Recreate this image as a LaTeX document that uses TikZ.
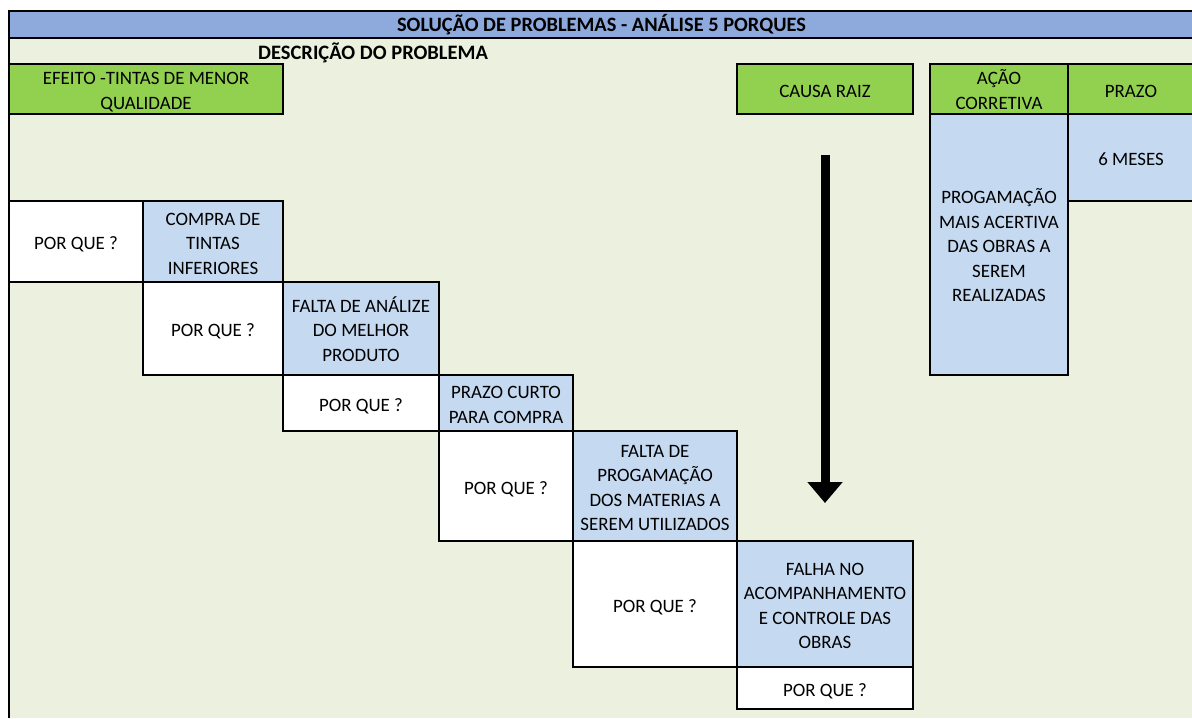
\documentclass[tikz,border=0pt]{standalone}
\usepackage{fontspec}
\setmainfont{Carlito}
\usetikzlibrary{arrows.meta}
\definecolor{bandblue}{HTML}{8EA9DB}
\definecolor{sheetbg}{HTML}{EBF1DE}
\definecolor{headgreen}{HTML}{92D050}
\definecolor{cellblue}{HTML}{C5D9F1}
% fixed first-line height and last-line depth so every cell text sits alike
\newcommand{\ts}{\rule{0pt}{20.7pt}}
\newcommand{\botstrut}{\rule[-4.5pt]{0pt}{4.5pt}}
\tikzset{
  cell/.style={draw=black, line width=1.1pt, inner sep=0pt, outer sep=0pt,
    anchor=north west, align=center,
    font=\fontsize{18.9}{24.5}\selectfont,
    execute at end node=\botstrut},
  greencell/.style={cell, fill=headgreen},
  bluecell/.style={cell, fill=cellblue},
  whycell/.style={cell, fill=white},
  cellsize/.style 2 args={minimum width=#1pt, minimum height=#2pt},
}
\begin{document}
\begin{tikzpicture}[x=1pt, y=-1pt]
  \useasboundingbox (0,0) rectangle (1192,718);
  \fill[white] (0,0) rectangle (1192,718);
  % sheet background and title band
  \fill[sheetbg] (9,11) rectangle (1192,718);
  \fill[bandblue] (9,11) rectangle (1196,38);
  \draw[line width=1.1pt] (1196,11) -- (9,11) -- (9,718);
  \draw[line width=1.1pt] (9,38) -- (1196,38);
  \node[font=\bfseries\fontsize{20.4}{24}\selectfont] (title) at (601.5,25)
    {SOLUÇÃO DE PROBLEMAS - ANÁLISE 5 PORQUES};
  \node[font=\bfseries\fontsize{20.5}{24}\selectfont, anchor=west, inner sep=0pt] (desc) at (258,53)
    {DESCRIÇÃO DO PROBLEMA};

  % header cells
  \node[greencell, cellsize={274}{50}] (efeito) at (9,64) {\ts EFEITO -TINTAS DE MENOR\\QUALIDADE};
  \node[greencell, cellsize={176}{50}] (causa) at (737,64) {\ts CAUSA RAIZ};
  \node[greencell, cellsize={138}{50}] (acao) at (930,64) {\ts AÇÃO\\CORRETIVA};
  \node[greencell, cellsize={126}{50}] (prazo) at (1068,64) {\ts PRAZO};
  \node[bluecell, cellsize={138}{261}] (acaotxt) at (930,114)
    {\ts PROGAMAÇÃO\\MAIS ACERTIVA\\DAS OBRAS A\\SEREM\\REALIZADAS};
  \node[bluecell, cellsize={126}{87}] (prazotxt) at (1068,114) {\ts 6 MESES};

  % the why-chain staircase
  \node[whycell, cellsize={134}{81}] (why1) at (9,201) {\ts POR QUE ?};
  \node[bluecell, cellsize={140}{81}] (ans1) at (143,201) {\ts COMPRA DE\\TINTAS\\INFERIORES};
  \node[whycell, cellsize={140}{93}] (why2) at (143,282) {\ts POR QUE ?};
  \node[bluecell, cellsize={156}{93}] (ans2) at (283,282) {\ts FALTA DE ANÁLIZE\\DO MELHOR\\PRODUTO};
  \node[whycell, cellsize={156}{56}] (why3) at (283,375) {\ts POR QUE ?};
  \node[bluecell, cellsize={134}{56}] (ans3) at (439,375) {\ts PRAZO CURTO\\PARA COMPRA};
  \node[whycell, cellsize={134}{110}] (why4) at (439,431) {\ts POR QUE ?};
  \node[bluecell, cellsize={164}{110}] (ans4) at (573,431)
    {\ts FALTA DE\\PROGAMAÇÃO\\DOS MATERIAS A\\SEREM UTILIZADOS};
  \node[whycell, cellsize={164}{126}] (why5) at (573,541) {\ts POR QUE ?};
  \node[bluecell, cellsize={176}{126}] (ans5) at (737,541)
    {\ts FALHA NO\\ACOMPANHAMENTO\\E CONTROLE DAS\\OBRAS};
  \node[whycell, cellsize={176}{42}] (why6) at (737,667) {\ts POR QUE ?};

  % downward arrow toward the root cause
  \coordinate (arrowtop) at (825,155);
  \coordinate (arrowtip) at (825,503);
  \draw[line width=9pt, -{Triangle[width=34pt, length=21pt]}] (arrowtop) -- (arrowtip);
\end{tikzpicture}
\end{document}
